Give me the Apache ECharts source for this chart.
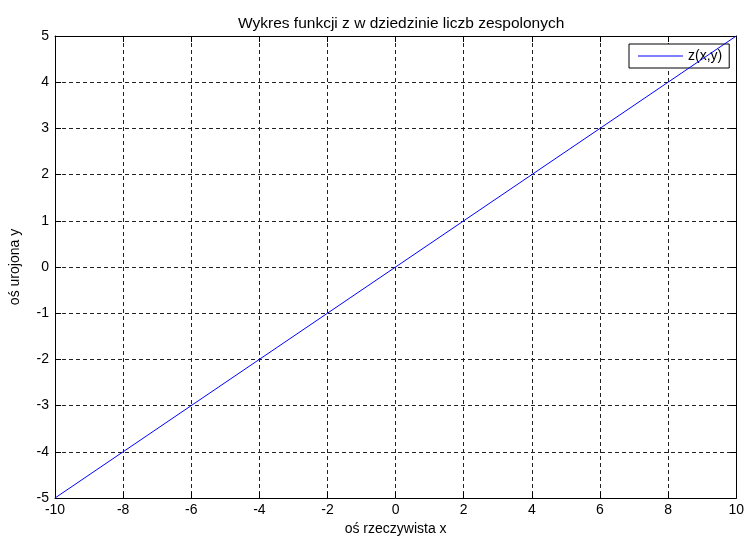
<!DOCTYPE html>
<html>
<head>
<meta charset="utf-8">
<script src="https://cdn.jsdelivr.net/npm/echarts@6/dist/echarts.min.js"></script>
<style>
  html, body { margin: 0; padding: 0; background: #fff; }
  #chart { width: 747px; height: 541px; }
</style>
</head>
<body>
<div id="chart"></div>
<script>
// z = x + i*y traced along the real axis: points (x, y)
const xValues = [-10, -8, -6, -4, -2, 0, 2, 4, 6, 8, 10];
const yValues = [-5, -4, -3, -2, -1, 0, 1, 2, 3, 4, 5];
const xTicks = [-10, -8, -6, -4, -2, 0, 2, 4, 6, 8, 10];
const yTicks = [-5, -4, -3, -2, -1, 0, 1, 2, 3, 4, 5];

const titleText = 'Wykres funkcji z w dziedzinie liczb zespolonych';
const xLabel = 'oś rzeczywista x';
const yLabel = 'oś urojona y';
const seriesName = 'z(x,y)';

const font = '"Liberation Sans", Arial, sans-serif';
const points = xValues.map((x, i) => [x, yValues[i]]);

const gridLine = { show: true, lineStyle: { color: '#222', width: 1, type: [4, 3] } };
const axisLine = { show: true, onZero: false, lineStyle: { color: '#000', width: 1 } };
const tickIn = { show: true, inside: true, length: 6, lineStyle: { color: '#000' } };
const labelText = { fontFamily: font, fontSize: 14, color: '#000' };

const chart = echarts.init(document.getElementById('chart'));
chart.setOption({
  animation: false,
  backgroundColor: '#fff',
  title: {
    text: titleText,
    left: 233,
    top: 11,
    textStyle: { fontFamily: font, fontSize: 15.5, fontWeight: 'normal', color: '#000' }
  },
  legend: {
    left: 629,
    top: 44,
    data: [seriesName],
    icon: 'rect',
    symbolKeepAspect: false,
    itemWidth: 45,
    itemHeight: 1,
    itemGap: 0,
    padding: [5, 7, 5, 9],
    backgroundColor: '#fff',
    borderColor: '#000',
    borderWidth: 1,
    borderRadius: 0,
    textStyle: { fontFamily: font, fontSize: 14, color: '#000' }
  },
  grid: { left: 54, right: 9, top: 36, bottom: 41, containLabel: false },
  xAxis: [
    {
      type: 'value', min: -10, max: 10, interval: 2,
      name: xLabel, nameLocation: 'middle', nameGap: 24,
      nameTextStyle: labelText,
      axisLine: axisLine, axisTick: tickIn, splitLine: gridLine,
      axisLabel: Object.assign({ margin: 5, customValues: xTicks }, labelText)
    },
    {
      type: 'value', min: -10, max: 10, interval: 2, position: 'top',
      axisLine: axisLine, axisTick: tickIn, splitLine: { show: false },
      axisLabel: { show: false }
    }
  ],
  yAxis: [
    {
      type: 'value', min: -5, max: 5, interval: 1,
      name: yLabel, nameLocation: 'middle', nameGap: 33,
      nameTextStyle: labelText,
      axisLine: axisLine, axisTick: tickIn, splitLine: gridLine,
      axisLabel: Object.assign({ margin: 6, customValues: yTicks }, labelText)
    },
    {
      type: 'value', min: -5, max: 5, interval: 1, position: 'right',
      axisLine: axisLine, axisTick: tickIn, splitLine: { show: false },
      axisLabel: { show: false }
    }
  ],
  series: [
    {
      name: seriesName,
      type: 'line',
      data: points,
      symbol: 'none',
      lineStyle: { color: '#0000ff', width: 1 },
      itemStyle: { color: '#0000ff' },
      z: 5
    }
  ]
});
</script>
</body>
</html>
